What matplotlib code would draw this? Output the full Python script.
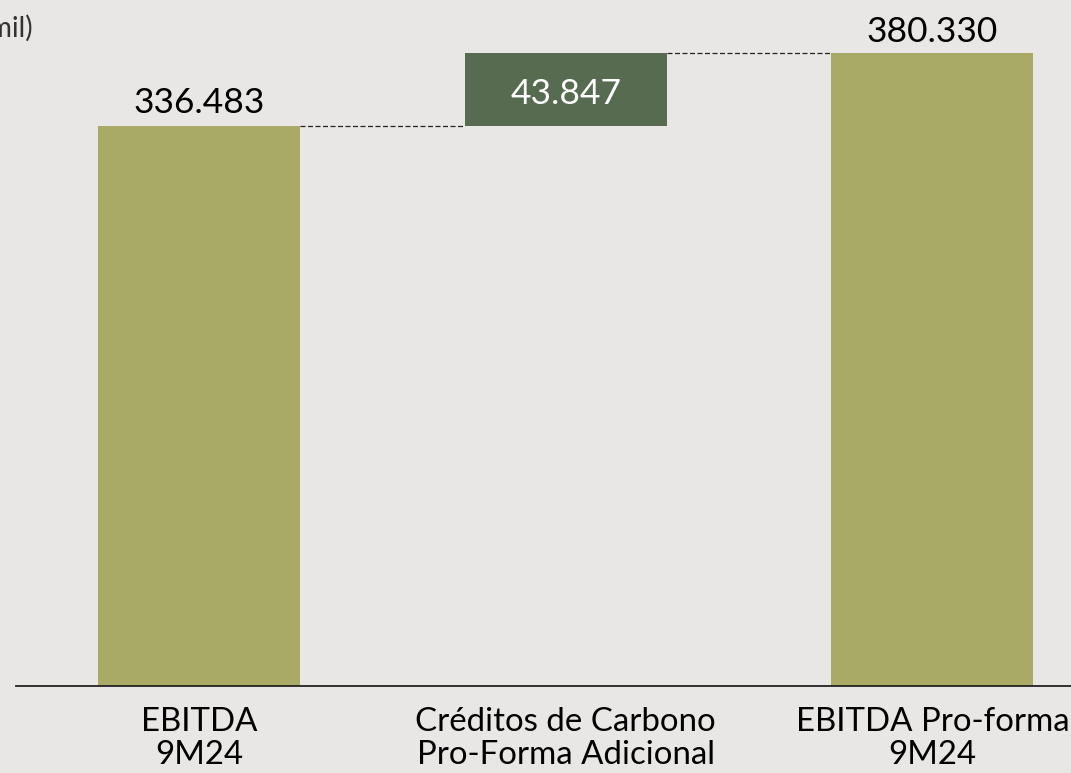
import numpy as np
from matplotlib import pyplot as plt

plt.rcParams['font.family'] = ['Lato', 'DejaVu Sans']

# dados (R$ mil)
categorias = ['EBITDA\n9M24', 'Créditos de Carbono\nPro-Forma Adicional', 'EBITDA Pro-forma\n9M24']
ebitda = 336.483
creditos = 43.847
ebitda_pf = 380.330
rotulos = ['336.483', '43.847', '380.330']

cor_total = '#a9aa66'
cor_delta = '#566b50'
fundo = '#e8e7e5'

fig = plt.figure(figsize=(10.71, 7.73), dpi=100, facecolor=fundo)
ax = fig.add_axes([16 / 1071, 87 / 773, 1 - 16 / 1071, 686 / 773])
ax.set_facecolor(fundo)

x = np.arange(3)
largura = 0.551
bottoms = [0, ebitda, 0]
alturas = [ebitda, creditos, ebitda_pf]
cores = [cor_total, cor_delta, cor_total]
ax.bar(x, alturas, bottom=bottoms, width=largura, color=cores)

# linhas de ligação tracejadas
ax.plot([x[0] + largura / 2, x[1] - largura / 2], [ebitda, ebitda], color='#222222', lw=0.9, ls=(0, (4, 2)))
ax.plot([x[1] + largura / 2, x[2] - largura / 2], [ebitda + creditos, ebitda + creditos],
        color='#222222', lw=0.9, ls=(0, (4, 2)))

# rótulos
ax.text(x[0], ebitda + 14, rotulos[0], ha='center', va='center', fontsize=25.5, color='black')
ax.text(x[1], ebitda + creditos / 2 - 2.5, rotulos[1], ha='center', va='center', fontsize=25.5, color='white')
ax.text(x[2], ebitda_pf + 12.5, rotulos[2], ha='center', va='center', fontsize=25.5, color='black')

ax.text(33 / 1071, 1 - 28 / 773, '(R$ mil)', transform=fig.transFigure, ha='right', va='center',
        fontsize=20, color='#333333')

ax.set_xlim(-0.499, 2.378)
ax.set_ylim(0, 412.3)
ax.set_xticks(x)
ax.set_xticklabels(categorias, fontsize=23.8, linespacing=1.15)
ax.tick_params(axis='x', length=0, pad=15)
ax.set_yticks([])
for s in ['top', 'right', 'left']:
    ax.spines[s].set_visible(False)
ax.spines['bottom'].set_linewidth(1.3)
ax.spines['bottom'].set_color('#222222')

plt.savefig('out.png', dpi=100, facecolor=fundo)
